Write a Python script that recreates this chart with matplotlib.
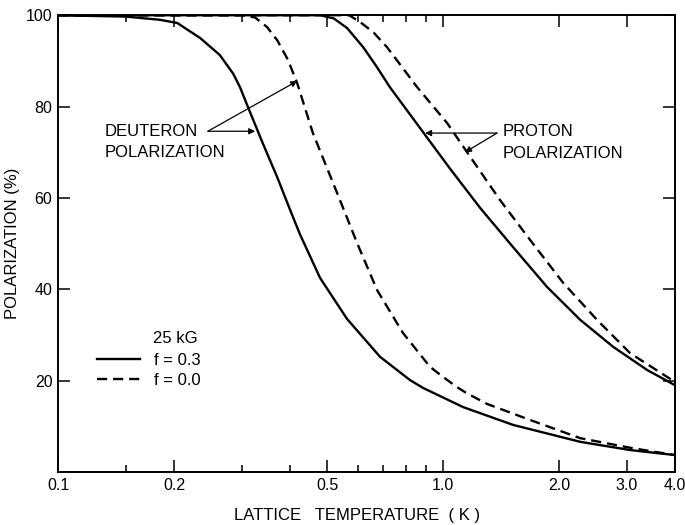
import numpy as np
import matplotlib
matplotlib.use("Agg")
import matplotlib.pyplot as plt
from matplotlib.ticker import FixedLocator, FixedFormatter, NullFormatter

plt.rcParams['font.family'] = ['Liberation Sans', 'DejaVu Sans']

# deuteron, f = 0.3 (solid)
deut_f03_T = [0.10, 0.15, 0.184, 0.204, 0.234, 0.263, 0.285, 0.297, 0.311, 0.34, 0.371,
              0.40, 0.425, 0.479, 0.563, 0.686, 0.821, 0.887, 1.127, 1.52, 2.27, 3.06, 4.0]
deut_f03_P = [100, 99.7, 99.0, 98.3, 95.0, 91.3, 87.2, 84.2, 80.0, 72.0, 64.5,
              57.5, 52.0, 42.5, 33.5, 25.2, 20.1, 18.4, 14.2, 10.3, 6.6, 4.8, 3.7]

# deuteron, f = 0.0 (dashed)
deut_f00_T = [0.10, 0.30, 0.325, 0.349, 0.371, 0.395, 0.418, 0.459, 0.531, 0.598, 0.674,
              0.787, 0.925, 1.0, 1.085, 1.154, 1.30, 1.68, 2.27, 3.06, 4.0]
deut_f00_P = [100, 100, 99.5, 97.4, 94.5, 90.3, 85.1, 74.2, 61.0, 50.1, 39.8,
              30.4, 23.0, 20.8, 18.6, 17.2, 14.9, 11.4, 7.4, 5.3, 3.7]

# proton, f = 0.3 (solid)
prot_f03_T = [0.10, 0.48, 0.52, 0.563, 0.62, 0.67, 0.728, 0.887, 1.04, 1.248, 1.52,
              1.862, 2.27, 2.764, 3.39, 4.0]
prot_f03_P = [100, 100, 99.3, 97.2, 93.0, 88.9, 84.2, 74.4, 66.5, 57.8, 49.2,
              40.5, 33.3, 27.4, 22.3, 19.0]

# proton, f = 0.0 (dashed)
prot_f00_T = [0.10, 0.57, 0.609, 0.66, 0.715, 0.857, 1.024, 1.154, 1.406, 1.682, 2.05,
              2.51, 3.06, 4.0]
prot_f00_P = [100, 100, 98.5, 96.2, 93.0, 84.2, 76.4, 70.0, 59.5, 50.8, 41.4,
              33.3, 26.0, 19.7]

x_major = [0.1, 0.2, 0.5, 1.0, 2.0, 3.0, 4.0]
x_major_labels = ['0.1', '0.2', '0.5', '1.0', '2.0', '3.0', '4.0']
x_minor = [0.15, 0.3, 0.4, 0.6, 0.7, 0.8, 0.9]
y_major = [20, 40, 60, 80, 100]

fig = plt.figure(figsize=(6.85, 5.25), dpi=100)
ax = fig.add_axes([0.0847, 0.101, 0.9007, 0.870])

lw = 1.7
dash = (4.3, 2.5)
l1, = ax.plot(deut_f03_T, deut_f03_P, color='black', lw=lw)
l2, = ax.plot(deut_f00_T, deut_f00_P, color='black', lw=lw, dashes=dash)
ax.plot(prot_f03_T, prot_f03_P, color='black', lw=lw)
ax.plot(prot_f00_T, prot_f00_P, color='black', lw=lw, dashes=dash)

ax.set_xscale('log')
ax.set_xlim(0.1, 4.0)
ax.set_ylim(0, 100)

ax.xaxis.set_major_locator(FixedLocator(x_major))
ax.xaxis.set_major_formatter(FixedFormatter(x_major_labels))
ax.xaxis.set_minor_locator(FixedLocator(x_minor))
ax.xaxis.set_minor_formatter(NullFormatter())
ax.yaxis.set_major_locator(FixedLocator(y_major))
ax.yaxis.set_minor_locator(FixedLocator([]))

ax.tick_params(which='both', direction='in', top=True, right=True, width=1.1,
               labelsize=11.5, pad=4)
ax.tick_params(which='major', length=8.5)
ax.tick_params(which='minor', length=5)
for s in ax.spines.values():
    s.set_linewidth(1.4)

ax.set_xlabel('LATTICE   TEMPERATURE  ( K )', fontsize=12)
ax.xaxis.set_label_coords(0.485, -0.079)
ax.set_ylabel('POLARIZATION (%)', fontsize=12)
ax.yaxis.set_label_coords(-0.062, 0.5)

# annotations
txt_kw = dict(fontsize=12, va='center', ha='left')
ax.text(0.1325, 74.6, 'DEUTERON', **txt_kw)
ax.text(0.1325, 70.0, 'POLARIZATION', **txt_kw)
ax.text(1.423, 74.5, 'PROTON', **txt_kw)
ax.text(1.423, 69.7, 'POLARIZATION', **txt_kw)

arr = dict(arrowstyle='-|>', color='black', lw=0.9, mutation_scale=9, shrinkA=0, shrinkB=0)
ax.annotate('', xy=(0.325, 74.6), xytext=(0.245, 74.6), arrowprops=arr)
ax.annotate('', xy=(0.418, 85.6), xytext=(0.245, 74.6), arrowprops=arr)
ax.annotate('', xy=(0.898, 74.2), xytext=(1.38, 74.2), arrowprops=arr)
ax.annotate('', xy=(1.14, 70.0), xytext=(1.38, 74.2), arrowprops=arr)

# legend
ax.text(0.1765, 29.3, '25 kG', fontsize=12, va='center', ha='left')
ax.legend([l1, l2], ['f = 0.3', 'f = 0.0'], loc='upper left',
          bbox_to_anchor=(0.063, 0.26), frameon=False, fontsize=12,
          handlelength=2.6, handletextpad=0.8, labelspacing=0.3,
          borderpad=0, borderaxespad=0)

fig.savefig('out.png', dpi=100)
